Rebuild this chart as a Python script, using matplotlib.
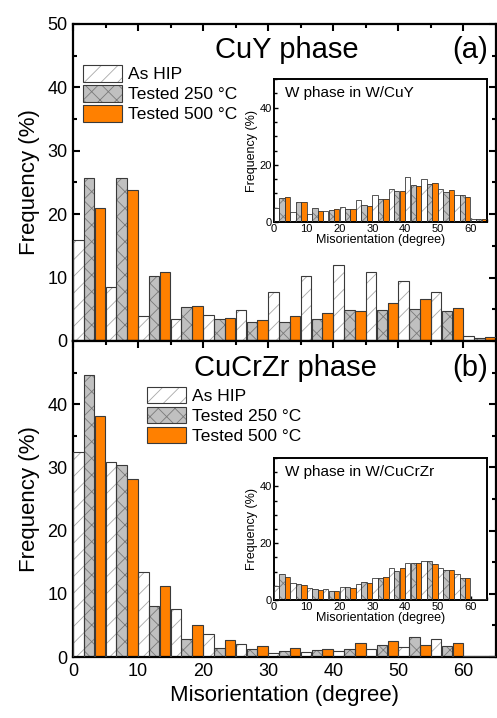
import numpy as np
import matplotlib
matplotlib.use("Agg")
import matplotlib.pyplot as plt
from matplotlib.ticker import MultipleLocator
from matplotlib.legend_handler import HandlerTuple

plt.rcParams['font.family'] = ['Liberation Sans', 'DejaVu Sans']
plt.rcParams['hatch.linewidth'] = 0.6

# ---- data ----
bins = np.arange(0, 65, 5)  # bin starts (degree)
series_names = ["As HIP", "Tested 250 °C", "Tested 500 °C"]

cuy_hip = [16.0, 8.5, 4.0, 3.4, 4.05, 4.9, 7.8, 10.3, 12.0, 10.9, 9.4, 7.8, 0.8]
cuy_250 = [25.7, 25.7, 10.2, 5.3, 3.4, 3.0, 3.0, 3.4, 4.9, 4.9, 5.0, 4.7, 0.4]
cuy_500 = [20.9, 23.8, 10.9, 5.5, 3.6, 3.3, 4.0, 4.4, 4.8, 6.0, 6.7, 5.2, 0.6]

wcuy_hip = [5.0, 3.5, 2.8, 3.8, 5.1, 7.6, 9.3, 11.4, 15.6, 14.9, 11.6, 9.6, 0.9]
wcuy_250 = [8.3, 6.9, 4.9, 4.1, 4.5, 5.9, 8.1, 10.8, 13.0, 13.3, 10.5, 9.3, 0.9]
wcuy_500 = [8.8, 6.9, 4.0, 4.4, 4.5, 5.7, 8.1, 10.8, 12.7, 13.7, 11.3, 8.6, 1.2]

cucrzr_hip = [32.4, 30.9, 13.4, 7.6, 3.6, 2.0, 0.7, 0.8, 0.95, 1.2, 1.6, 2.85, 0.2]
cucrzr_250 = [44.6, 30.4, 8.1, 2.9, 1.5, 1.2, 0.9, 1.05, 1.25, 1.95, 3.1, 1.8, 0.1]
cucrzr_500 = [38.2, 28.1, 11.2, 5.0, 2.7, 1.7, 1.5, 1.2, 2.2, 2.5, 1.9, 2.2, 0.15]

wcucrzr_hip = [5.0, 5.9, 4.2, 4.0, 4.7, 5.5, 7.6, 11.2, 12.9, 13.6, 11.2, 9.2, 0.2]
wcucrzr_250 = [9.1, 5.8, 3.8, 3.3, 4.5, 6.2, 7.6, 10.2, 13.2, 13.6, 10.6, 7.8, 0.5]
wcucrzr_500 = [8.2, 5.3, 3.5, 3.3, 4.2, 6.0, 8.0, 11.2, 13.2, 12.8, 10.4, 7.8, 0.4]

# ---- styles ----
fills = ['white', '#c0c0c0', '#ff8000']
hatches = ['//', 'xx', None]
hatch_cols = ['#a8a8a8', '#7a7a7a', '#ff8000']
outline = '#3a3a3a'
bw = 5 / 3


def draw_bars(ax, series, lw=0.8):
    handles = []
    for i, vals in enumerate(series):
        x = bins + i * bw
        b1 = ax.bar(x, vals, width=bw * 0.97, align='edge', color=fills[i],
                    hatch=hatches[i], edgecolor=hatch_cols[i], linewidth=0, zorder=2)
        b2 = ax.bar(x, vals, width=bw * 0.97, align='edge', fill=False,
                    edgecolor=outline, linewidth=lw, zorder=3)
        handles.append((b1.patches[0], b2.patches[0]))
    return handles


def style_main(ax):
    ax.set_xlim(0, 65)
    ax.set_ylim(0, 50)
    ax.xaxis.set_major_locator(MultipleLocator(10))
    ax.xaxis.set_minor_locator(MultipleLocator(5))
    ax.yaxis.set_major_locator(MultipleLocator(10))
    ax.yaxis.set_minor_locator(MultipleLocator(5))
    ax.tick_params(which='both', direction='in', top=True, right=True, width=1.5)
    ax.tick_params(which='major', length=5, labelsize=13, pad=4)
    ax.tick_params(which='minor', length=3)
    for s in ax.spines.values():
        s.set_linewidth(1.6)


def style_inset(ax, title):
    ax.set_xlim(0, 65)
    ax.set_ylim(0, 50)
    ax.xaxis.set_major_locator(MultipleLocator(10))
    ax.xaxis.set_minor_locator(MultipleLocator(5))
    ax.yaxis.set_major_locator(MultipleLocator(20))
    ax.yaxis.set_minor_locator(MultipleLocator(5))
    ax.tick_params(which='both', direction='in', width=1.0)
    ax.tick_params(which='major', length=3, labelsize=8, pad=1.5)
    ax.tick_params(which='minor', length=2)
    for s in ax.spines.values():
        s.set_linewidth(1.4)
    ax.set_xlabel('Misorientation (degree)', fontsize=9, labelpad=0)
    ax.set_ylabel('Frequency (%)', fontsize=9, labelpad=1)
    ax.text(0.05, 0.95, title, transform=ax.transAxes, fontsize=11,
            ha='left', va='top')


fig = plt.figure(figsize=(4.97, 7.18), dpi=100)
L, R = 73 / 497, 496 / 497
axA = fig.add_axes([L, 1 - 341 / 718, R - L, 317 / 718])
axB = fig.add_axes([L, 1 - 657 / 718, R - L, 316 / 718])

hA = draw_bars(axA, [cuy_hip, cuy_250, cuy_500])
hB = draw_bars(axB, [cucrzr_hip, cucrzr_250, cucrzr_500])
style_main(axA)
style_main(axB)
axA.tick_params(labelbottom=False)
axB.set_yticks([0, 10, 20, 30, 40])
axB.yaxis.set_minor_locator(MultipleLocator(5))

axA.set_ylabel('Frequency (%)', fontsize=16, labelpad=5)
axB.set_ylabel('Frequency (%)', fontsize=16, labelpad=5)
axB.set_xlabel('Misorientation (degree)', fontsize=16, labelpad=4)

axA.text(0.505, 0.918, 'CuY phase', transform=axA.transAxes, fontsize=21,
         ha='center', va='center')
axA.text(0.94, 0.918, '(a)', transform=axA.transAxes, fontsize=21,
         ha='center', va='center')
axB.text(0.502, 0.915, 'CuCrZr phase', transform=axB.transAxes, fontsize=21,
         ha='center', va='center')
axB.text(0.94, 0.915, '(b)', transform=axB.transAxes, fontsize=21,
         ha='center', va='center')

leg_kw = dict(frameon=False, fontsize=12.5, handlelength=2.25, handleheight=1.1,
              labelspacing=0.15, handletextpad=0.35, borderpad=0, borderaxespad=0,
              loc='upper left', handler_map={tuple: HandlerTuple(ndivide=1, pad=0)})
axA.legend(hA, series_names, bbox_to_anchor=(0.0236, 0.87), **leg_kw)
axB.legend(hB, series_names, bbox_to_anchor=(0.1745, 0.855), **leg_kw)

inA = fig.add_axes([274 / 497, 1 - 222 / 718, 213 / 497, 143 / 718])
draw_bars(inA, [wcuy_hip, wcuy_250, wcuy_500], lw=0.6)
style_inset(inA, 'W phase in W/CuY')

inB = fig.add_axes([274 / 497, 1 - 600 / 718, 213 / 497, 142 / 718])
draw_bars(inB, [wcucrzr_hip, wcucrzr_250, wcucrzr_500], lw=0.6)
style_inset(inB, 'W phase in W/CuCrZr')

fig.savefig('out.png', dpi=100)
